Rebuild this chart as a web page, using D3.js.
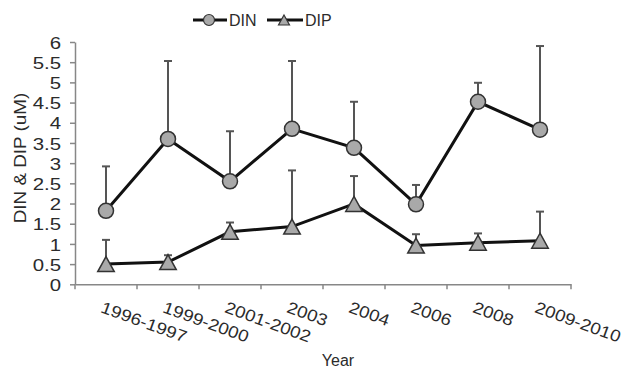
<!DOCTYPE html>
<html>
<head>
<meta charset="utf-8">
<script src="https://cdn.jsdelivr.net/npm/d3@7"></script>
<style>
  body { margin: 0; background: #fff; }
  text { font-family: "Liberation Sans", Arial, sans-serif; fill: #2b2b2b; }
</style>
</head>
<body>
<div id="chart"></div>
<script>
const categories = ["1996-1997", "1999-2000", "2001-2002", "2003", "2004", "2006", "2008", "2009-2010"];
const din = [1.82, 3.6, 2.55, 3.85, 3.38, 1.98, 4.52, 3.83];
const dinErr = [1.1, 1.93, 1.24, 1.68, 1.14, 0.48, 0.47, 2.07];
const dip = [0.5, 0.55, 1.3, 1.43, 1.99, 0.96, 1.03, 1.08];
const dipErr = [0.6, 0.17, 0.23, 1.39, 0.69, 0.28, 0.23, 0.72];
const yTicks = [0, 0.5, 1, 1.5, 2, 2.5, 3, 3.5, 4, 4.5, 5, 5.5, 6];

const W = 624, H = 369;
const margin = { top: 42, right: 53, bottom: 85, left: 75 };

const svg = d3.select("#chart").append("svg")
  .attr("width", W)
  .attr("height", H);

const x = d3.scaleBand()
  .domain(categories)
  .range([margin.left, W - margin.right])
  .padding(0);

const y = d3.scaleLinear()
  .domain([0, 6])
  .range([H - margin.bottom + 0.3, margin.top]);

const axisColor = "#878787";

// y axis
const yAxis = svg.append("g")
  .attr("transform", `translate(${margin.left},0)`)
  .call(d3.axisLeft(y).tickValues(yTicks).tickSize(5).tickSizeOuter(0).tickFormat(d3.format("")));
yAxis.select(".domain").attr("stroke", axisColor).attr("stroke-width", 1.5);
yAxis.selectAll(".tick line").attr("stroke", axisColor).attr("stroke-width", 1.5);
yAxis.selectAll(".tick text")
  .attr("x", 0)
  .attr("transform", "translate(-14,0) scale(1.2,1)")
  .attr("dy", "0.36em")
  .style("font-size", "17px")
  .style("font-family", "Liberation Sans, Arial, sans-serif")
  .attr("fill", "#2b2b2b");

// x axis
const xAxis = svg.append("g")
  .attr("transform", `translate(0,${y(0)})`)
  .call(d3.axisBottom(x).tickSize(0).tickSizeOuter(0));
xAxis.select(".domain").attr("stroke", axisColor).attr("stroke-width", 1.5);
xAxis.selectAll(".tick text")
  .attr("y", 0)
  .attr("dy", "0.75em")
  .attr("text-anchor", "start")
  .attr("transform", "translate(-2,16) rotate(20) scale(1.14,1)")
  .style("font-size", "16.5px")
  .style("font-family", "Liberation Sans, Arial, sans-serif")
  .attr("fill", "#2b2b2b");

// tick marks between categories
const edges = categories.map(c => x(c)).concat([x.range()[1]]);
xAxis.selectAll(".edge")
  .data(edges)
  .enter()
  .append("line")
  .attr("class", "edge")
  .attr("x1", d => d)
  .attr("x2", d => d)
  .attr("y1", 0)
  .attr("y2", 5)
  .attr("stroke", axisColor)
  .attr("stroke-width", 1.5);

// axis titles
svg.append("text")
  .attr("transform", "translate(20,158) rotate(-90) scale(1.18,1)")
  .attr("text-anchor", "middle")
  .attr("dy", "0.35em")
  .style("font-size", "16px")
  .text("DIN & DIP (uM)");

svg.append("text")
  .attr("x", 338)
  .attr("y", 366)
  .attr("text-anchor", "middle")
  .style("font-size", "16px")
  .text("Year");

const cx = (i) => x(categories[i]) + x.bandwidth() / 2;

// error bars (upper only)
function errorBars(vals, errs) {
  const g = svg.append("g");
  vals.forEach((v, i) => {
    g.append("line")
      .attr("x1", cx(i)).attr("x2", cx(i))
      .attr("y1", y(v)).attr("y2", y(v + errs[i]))
      .attr("stroke", "#555").attr("stroke-width", 2);
    g.append("line")
      .attr("x1", cx(i) - 4).attr("x2", cx(i) + 4)
      .attr("y1", y(v + errs[i])).attr("y2", y(v + errs[i]))
      .attr("stroke", "#555").attr("stroke-width", 2);
  });
}
errorBars(din, dinErr);
errorBars(dip, dipErr);

const line = d3.line()
  .x((d, i) => cx(i))
  .y(d => y(d));

svg.append("path")
  .datum(din)
  .attr("d", line)
  .attr("fill", "none")
  .attr("stroke", "#111")
  .attr("stroke-width", 3);

svg.append("path")
  .datum(dip)
  .attr("d", line)
  .attr("fill", "none")
  .attr("stroke", "#111")
  .attr("stroke-width", 3);

const markerFill = "#a9a9a9";
const markerStroke = "#333";

svg.append("g")
  .selectAll("circle")
  .data(din)
  .enter()
  .append("circle")
  .attr("cx", (d, i) => cx(i))
  .attr("cy", d => y(d))
  .attr("r", 7.5)
  .attr("fill", markerFill)
  .attr("stroke", markerStroke)
  .attr("stroke-width", 1.5);

const tri = (s) => `M0,${-s * 0.5}L${s * 0.55},${s * 0.5}L${-s * 0.55},${s * 0.5}Z`;

svg.append("g")
  .selectAll("path")
  .data(dip)
  .enter()
  .append("path")
  .attr("d", tri(15))
  .attr("transform", (d, i) => `translate(${cx(i)},${y(d)})`)
  .attr("fill", markerFill)
  .attr("stroke", markerStroke)
  .attr("stroke-width", 1.5);

// legend
const legend = svg.append("g").attr("transform", "translate(0,20)");
legend.append("line").attr("x1", 193).attr("x2", 227).attr("stroke", "#111").attr("stroke-width", 3);
legend.append("circle").attr("cx", 209).attr("r", 5.5)
  .attr("fill", markerFill).attr("stroke", markerStroke).attr("stroke-width", 1.2);
legend.append("text").attr("x", 229).attr("dy", "0.36em").style("font-size", "16px").text("DIN");

legend.append("line").attr("x1", 267).attr("x2", 303).attr("stroke", "#111").attr("stroke-width", 3);
legend.append("path").attr("d", tri(10)).attr("transform", "translate(284,0)")
  .attr("fill", markerFill).attr("stroke", markerStroke).attr("stroke-width", 1.2);
legend.append("text").attr("x", 305).attr("dy", "0.36em").style("font-size", "16px").text("DIP");
</script>
</body>
</html>
